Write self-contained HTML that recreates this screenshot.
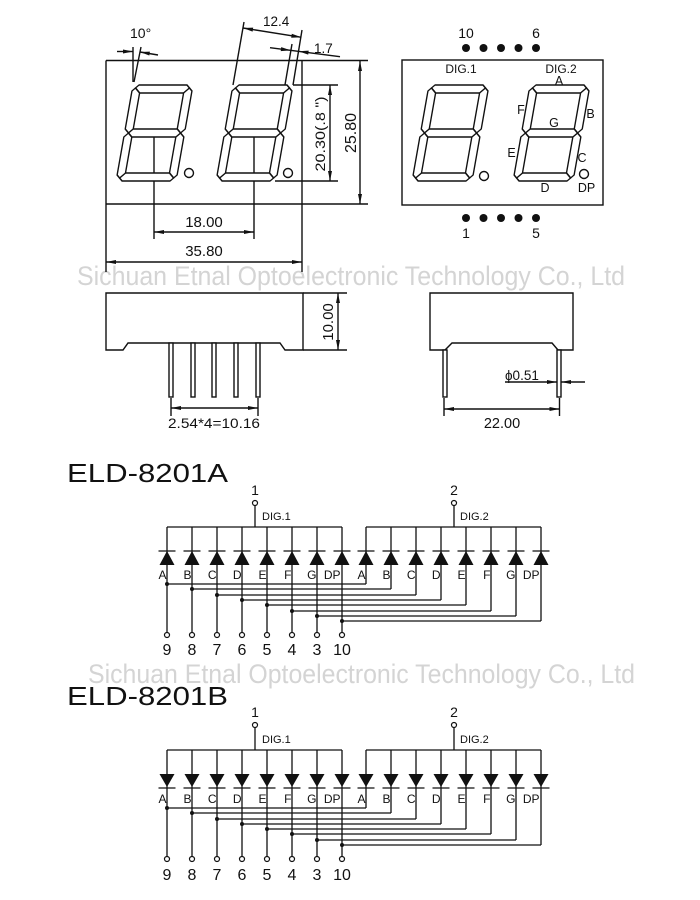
<!DOCTYPE html>
<html><head><meta charset="utf-8"><style>
html,body{margin:0;padding:0;background:#fff;}
svg{display:block;}
text{font-family:"Liberation Sans",Arial,sans-serif;fill:#111;}
.wm{fill:#d4d4d4;}
</style></head><body>
<svg width="700" height="900" viewBox="0 0 700 900" xmlns="http://www.w3.org/2000/svg" xmlns:xlink="http://www.w3.org/1999/xlink">
<defs>
<g id="dig" fill="#fff" stroke="#111" stroke-width="1.4" stroke-linejoin="round">
<polygon points="6,0 54,0 57,3 52,8 8,8 3,3"/>
<polygon points="57,3 60,6 60,44 56,48 52,44 52,8"/>
<polygon points="56,48 60,52 60,90 57,93 52,88 52,52"/>
<polygon points="8,88 52,88 57,93 54,96 6,96 3,93"/>
<polygon points="4,48 8,52 8,88 3,93 0,90 0,52"/>
<polygon points="3,3 8,8 8,44 4,48 0,44 0,6"/>
<polygon points="4,48 8,44 52,44 56,48 52,52 8,52"/>
</g>
<g id="dU"><line x1="-8.5" y1="0" x2="8.5" y2="0" stroke="#111" stroke-width="1.3"/><polygon points="0,0 -7.5,14 7.5,14" fill="#111"/></g>
<g id="dD"><polygon points="-7.5,0 7.5,0 0,13" fill="#111"/><line x1="-8.5" y1="14" x2="8.5" y2="14" stroke="#111" stroke-width="1.3"/></g>
</defs>

<!-- watermarks -->
<text class="wm" x="77" y="285" font-size="27" textLength="548" lengthAdjust="spacingAndGlyphs">Sichuan Etnal Optoelectronic Technology Co., Ltd</text>
<text class="wm" x="88" y="683" font-size="27" textLength="547" lengthAdjust="spacingAndGlyphs">Sichuan Etnal Optoelectronic Technology Co., Ltd</text>

<!-- ============ TOP LEFT FRONT VIEW ============ -->
<g stroke="#111" stroke-width="1.4" fill="none">
<line x1="106" y1="60.5" x2="368" y2="60.5"/>
<line x1="106" y1="204" x2="368" y2="204"/>
<line x1="106" y1="60.5" x2="106" y2="272"/>
<line x1="302" y1="60.5" x2="302" y2="272"/>
<line x1="360" y1="61" x2="360" y2="204"/>
<line x1="293" y1="85" x2="338" y2="85"/>
<line x1="275" y1="181" x2="338" y2="181"/>
<line x1="330" y1="85" x2="330" y2="181"/>
<line x1="154" y1="133" x2="154" y2="239"/>
<line x1="254" y1="133" x2="254" y2="239"/>
<line x1="154" y1="232" x2="254" y2="232"/>
<line x1="106" y1="262" x2="302" y2="262"/>
<line x1="133" y1="47" x2="133" y2="82"/>
<line x1="141" y1="47" x2="134" y2="82"/>
<line x1="117" y1="51.5" x2="133" y2="51.5"/>
<line x1="140" y1="52" x2="158" y2="55"/>
<line x1="244" y1="22" x2="233" y2="85"/>
<line x1="302" y1="30" x2="293" y2="85"/>
<line x1="243" y1="28" x2="301.4" y2="37.3"/>
<line x1="292" y1="44" x2="283.6" y2="93"/>
<line x1="270" y1="47.7" x2="340" y2="56.7"/>
</g>
<g fill="#111">
<polygon points="360,61 358,71 362,71"/>
<polygon points="360,204 358,194 362,194"/>
<polygon points="330,85 328,95 332,95"/>
<polygon points="330,181 328,171 332,171"/>
<polygon points="154,232 164,230 164,234"/>
<polygon points="254,232 244,230 244,234"/>
<polygon points="106,262 116,260 116,264"/>
<polygon points="302,262 292,260 292,264"/>
<polygon points="133,51.5 123,49.5 123,53.5"/>
<polygon points="140,52 149.9,51.6 149.3,55.5"/>
<polygon points="243,28 253.2,27.6 252.6,31.6"/>
<polygon points="301.4,37.3 291.8,33.7 291.2,37.7"/>
<polygon points="290.9,50.4 281.2,47.1 280.7,51.1"/>
<polygon points="298.5,51.3 308.7,50.6 308.2,54.6"/>
</g>
<use href="#dig" xlink:href="#dig" transform="translate(133,85) skewX(-10)"/>
<use href="#dig" xlink:href="#dig" transform="translate(233,85) skewX(-10)"/>
<g fill="#fff" stroke="#111" stroke-width="1.4">
<circle cx="189" cy="173" r="4.5"/>
<circle cx="288" cy="173" r="4.5"/>
</g>
<text x="130" y="38" font-size="14">10°</text>
<text x="263" y="26" font-size="13.5">12.4</text>
<text x="314" y="53" font-size="13.5">1.7</text>
<text x="204" y="227" font-size="15" text-anchor="middle">18.00</text>
<text x="204" y="256" font-size="15" text-anchor="middle">35.80</text>
<text transform="translate(356,133) rotate(-90)" font-size="16" text-anchor="middle">25.80</text>
<text transform="translate(325,134) rotate(-90)" font-size="14" text-anchor="middle" textLength="75" lengthAdjust="spacingAndGlyphs">20.30(.8 ")</text>

<!-- ============ TOP RIGHT FRONT VIEW ============ -->
<rect x="402" y="60" width="201" height="145" fill="none" stroke="#111" stroke-width="1.4"/>
<g fill="#111">
<circle cx="466" cy="48" r="4"/><circle cx="483.5" cy="48" r="4"/><circle cx="501" cy="48" r="4"/><circle cx="518.5" cy="48" r="4"/><circle cx="536" cy="48" r="4"/>
<circle cx="466" cy="218" r="4"/><circle cx="483.5" cy="218" r="4"/><circle cx="501" cy="218" r="4"/><circle cx="518.5" cy="218" r="4"/><circle cx="536" cy="218" r="4"/>
</g>
<text x="466" y="38" font-size="14" text-anchor="middle">10</text>
<text x="536" y="38" font-size="14" text-anchor="middle">6</text>
<text x="466" y="238" font-size="14" text-anchor="middle">1</text>
<text x="536" y="238" font-size="14" text-anchor="middle">5</text>
<text x="461" y="73" font-size="12" text-anchor="middle">DIG.1</text>
<text x="561" y="73" font-size="12" text-anchor="middle">DIG.2</text>
<use href="#dig" xlink:href="#dig" transform="translate(429,85) skewX(-10)"/>
<use href="#dig" xlink:href="#dig" transform="translate(530,85) skewX(-10)"/>
<g fill="#fff" stroke="#111" stroke-width="1.4">
<circle cx="484" cy="176" r="4.5"/>
<circle cx="584" cy="174" r="4.5"/>
</g>
<g font-size="12.5">
<text x="559" y="85" text-anchor="middle">A</text>
<text x="521" y="114" text-anchor="middle">F</text>
<text x="590.5" y="118" text-anchor="middle">B</text>
<text x="554" y="127" text-anchor="middle">G</text>
<text x="511.5" y="157" text-anchor="middle">E</text>
<text x="582" y="162" text-anchor="middle">C</text>
<text x="545" y="192" text-anchor="middle">D</text>
<text x="586.5" y="192" text-anchor="middle">DP</text>
</g>

<!-- ============ SIDE VIEWS ============ -->
<g stroke="#111" stroke-width="1.4" fill="none">
<polygon points="106,293 303,293 303,350 285,350 280,343 128,343 123,350 106,350"/>
<line x1="303" y1="293" x2="347" y2="293"/>
<line x1="303" y1="350" x2="347" y2="350"/>
<line x1="338" y1="293" x2="338" y2="350"/>
<rect x="169" y="343" width="4" height="54" fill="#fff"/>
<rect x="191" y="343" width="4" height="54" fill="#fff"/>
<rect x="212" y="343" width="4" height="54" fill="#fff"/>
<rect x="234" y="343" width="4" height="54" fill="#fff"/>
<rect x="256" y="343" width="4" height="54" fill="#fff"/>
<line x1="171" y1="398" x2="171" y2="416"/>
<line x1="258" y1="398" x2="258" y2="416"/>
<line x1="171" y1="408" x2="258" y2="408"/>

<polygon points="430,293 573,293 573,350 558,350 552,343 452,343 445,350 430,350"/>
<rect x="443" y="350" width="4" height="47" fill="#fff"/>
<rect x="557" y="350" width="4" height="47" fill="#fff"/>
<line x1="444" y1="398" x2="444" y2="416"/>
<line x1="559.5" y1="398" x2="559.5" y2="416"/>
<line x1="444" y1="409" x2="559.5" y2="409"/>
<line x1="505" y1="382" x2="557" y2="382"/>
<line x1="561" y1="382" x2="585" y2="382"/>
</g>
<g fill="#111">
<polygon points="338,293 336,303 340,303"/>
<polygon points="338,350 336,340 340,340"/>
<polygon points="171,408 181,406 181,410"/>
<polygon points="258,408 248,406 248,410"/>
<polygon points="444,409 454,407 454,411"/>
<polygon points="559.5,409 549.5,407 549.5,411"/>
<polygon points="557,382 547,380 547,384"/>
<polygon points="561,382 571,380 571,384"/>
</g>
<text transform="translate(333,322) rotate(-90)" font-size="15" text-anchor="middle">10.00</text>
<text x="214" y="428" font-size="14" text-anchor="middle" textLength="92" lengthAdjust="spacingAndGlyphs">2.54*4=10.16</text>
<text x="502" y="428" font-size="14.5" text-anchor="middle">22.00</text>
<text x="505" y="380" font-size="13.5">ϕ0.51</text>

<!-- ============ CIRCUIT A ============ -->
<text x="67" y="482" font-size="26" textLength="161" lengthAdjust="spacingAndGlyphs">ELD-8201A</text>
<g stroke="#111" stroke-width="1.3" fill="none">
<line x1="167" y1="527" x2="342" y2="527"/>
<line x1="366" y1="527" x2="541" y2="527"/>
<line x1="255" y1="505.5" x2="255" y2="527"/>
<line x1="454" y1="505.5" x2="454" y2="527"/>
<line x1="167" y1="527" x2="167" y2="632.5"/>
<line x1="192" y1="527" x2="192" y2="632.5"/>
<line x1="217" y1="527" x2="217" y2="632.5"/>
<line x1="242" y1="527" x2="242" y2="632.5"/>
<line x1="267" y1="527" x2="267" y2="632.5"/>
<line x1="292" y1="527" x2="292" y2="632.5"/>
<line x1="317" y1="527" x2="317" y2="632.5"/>
<line x1="342" y1="527" x2="342" y2="632.5"/>
<line x1="366" y1="527" x2="366" y2="584"/>
<line x1="391" y1="527" x2="391" y2="589"/>
<line x1="416" y1="527" x2="416" y2="595"/>
<line x1="441" y1="527" x2="441" y2="600"/>
<line x1="466" y1="527" x2="466" y2="605"/>
<line x1="491" y1="527" x2="491" y2="611"/>
<line x1="516" y1="527" x2="516" y2="616"/>
<line x1="541" y1="527" x2="541" y2="621"/>
<line x1="167" y1="584" x2="366" y2="584"/>
<line x1="192" y1="589" x2="391" y2="589"/>
<line x1="217" y1="595" x2="416" y2="595"/>
<line x1="242" y1="600" x2="441" y2="600"/>
<line x1="267" y1="605" x2="466" y2="605"/>
<line x1="292" y1="611" x2="491" y2="611"/>
<line x1="317" y1="616" x2="516" y2="616"/>
<line x1="342" y1="621" x2="541" y2="621"/>
</g>
<g fill="#fff" stroke="#111" stroke-width="1.2">
<circle cx="255" cy="503" r="2.5"/><circle cx="454" cy="503" r="2.5"/>
<circle cx="167" cy="635" r="2.5"/><circle cx="192" cy="635" r="2.5"/><circle cx="217" cy="635" r="2.5"/><circle cx="242" cy="635" r="2.5"/>
<circle cx="267" cy="635" r="2.5"/><circle cx="292" cy="635" r="2.5"/><circle cx="317" cy="635" r="2.5"/><circle cx="342" cy="635" r="2.5"/>
</g>
<g fill="#111">
<circle cx="167" cy="584" r="2"/><circle cx="192" cy="589" r="2"/><circle cx="217" cy="595" r="2"/><circle cx="242" cy="600" r="2"/>
<circle cx="267" cy="605" r="2"/><circle cx="292" cy="611" r="2"/><circle cx="317" cy="616" r="2"/><circle cx="342" cy="621" r="2"/>
</g>
<use href="#dU" xlink:href="#dU" x="167" y="551"/><use href="#dU" xlink:href="#dU" x="192" y="551"/><use href="#dU" xlink:href="#dU" x="217" y="551"/><use href="#dU" xlink:href="#dU" x="242" y="551"/>
<use href="#dU" xlink:href="#dU" x="267" y="551"/><use href="#dU" xlink:href="#dU" x="292" y="551"/><use href="#dU" xlink:href="#dU" x="317" y="551"/><use href="#dU" xlink:href="#dU" x="342" y="551"/>
<use href="#dU" xlink:href="#dU" x="366" y="551"/><use href="#dU" xlink:href="#dU" x="391" y="551"/><use href="#dU" xlink:href="#dU" x="416" y="551"/><use href="#dU" xlink:href="#dU" x="441" y="551"/>
<use href="#dU" xlink:href="#dU" x="466" y="551"/><use href="#dU" xlink:href="#dU" x="491" y="551"/><use href="#dU" xlink:href="#dU" x="516" y="551"/><use href="#dU" xlink:href="#dU" x="541" y="551"/>
<text x="255" y="495" font-size="14" text-anchor="middle">1</text>
<text x="454" y="495" font-size="14" text-anchor="middle">2</text>
<text x="262" y="520" font-size="11">DIG.1</text>
<text x="460" y="520" font-size="11">DIG.2</text>
<g font-size="12" text-anchor="end">
<text x="166.5" y="579">A</text><text x="191.5" y="579">B</text><text x="216.5" y="579">C</text><text x="241.5" y="579">D</text>
<text x="266.5" y="579">E</text><text x="291.5" y="579">F</text><text x="316.5" y="579">G</text><text x="340.5" y="579">DP</text>
<text x="365.5" y="579">A</text><text x="390.5" y="579">B</text><text x="415.5" y="579">C</text><text x="440.5" y="579">D</text>
<text x="465.5" y="579">E</text><text x="490.5" y="579">F</text><text x="515.5" y="579">G</text><text x="539.5" y="579">DP</text>
</g>
<g font-size="16" text-anchor="middle">
<text x="167" y="655">9</text><text x="192" y="655">8</text><text x="217" y="655">7</text><text x="242" y="655">6</text>
<text x="267" y="655">5</text><text x="292" y="655">4</text><text x="317" y="655">3</text><text x="342" y="655">10</text>
</g>

<!-- ============ CIRCUIT B ============ -->
<text x="67" y="705" font-size="26" textLength="161" lengthAdjust="spacingAndGlyphs">ELD-8201B</text>
<g stroke="#111" stroke-width="1.3" fill="none">
<line x1="167" y1="750" x2="342" y2="750"/>
<line x1="366" y1="750" x2="541" y2="750"/>
<line x1="255" y1="727.5" x2="255" y2="750"/>
<line x1="454" y1="727.5" x2="454" y2="750"/>
<line x1="167" y1="750" x2="167" y2="856.5"/>
<line x1="192" y1="750" x2="192" y2="856.5"/>
<line x1="217" y1="750" x2="217" y2="856.5"/>
<line x1="242" y1="750" x2="242" y2="856.5"/>
<line x1="267" y1="750" x2="267" y2="856.5"/>
<line x1="292" y1="750" x2="292" y2="856.5"/>
<line x1="317" y1="750" x2="317" y2="856.5"/>
<line x1="342" y1="750" x2="342" y2="856.5"/>
<line x1="366" y1="750" x2="366" y2="808"/>
<line x1="391" y1="750" x2="391" y2="813"/>
<line x1="416" y1="750" x2="416" y2="819"/>
<line x1="441" y1="750" x2="441" y2="824"/>
<line x1="466" y1="750" x2="466" y2="829"/>
<line x1="491" y1="750" x2="491" y2="834"/>
<line x1="516" y1="750" x2="516" y2="840"/>
<line x1="541" y1="750" x2="541" y2="845"/>
<line x1="167" y1="808" x2="366" y2="808"/>
<line x1="192" y1="813" x2="391" y2="813"/>
<line x1="217" y1="819" x2="416" y2="819"/>
<line x1="242" y1="824" x2="441" y2="824"/>
<line x1="267" y1="829" x2="466" y2="829"/>
<line x1="292" y1="834" x2="491" y2="834"/>
<line x1="317" y1="840" x2="516" y2="840"/>
<line x1="342" y1="845" x2="541" y2="845"/>
</g>
<g fill="#fff" stroke="#111" stroke-width="1.2">
<circle cx="255" cy="725" r="2.5"/><circle cx="454" cy="725" r="2.5"/>
<circle cx="167" cy="859" r="2.5"/><circle cx="192" cy="859" r="2.5"/><circle cx="217" cy="859" r="2.5"/><circle cx="242" cy="859" r="2.5"/>
<circle cx="267" cy="859" r="2.5"/><circle cx="292" cy="859" r="2.5"/><circle cx="317" cy="859" r="2.5"/><circle cx="342" cy="859" r="2.5"/>
</g>
<g fill="#111">
<circle cx="167" cy="808" r="2"/><circle cx="192" cy="813" r="2"/><circle cx="217" cy="819" r="2"/><circle cx="242" cy="824" r="2"/>
<circle cx="267" cy="829" r="2"/><circle cx="292" cy="834" r="2"/><circle cx="317" cy="840" r="2"/><circle cx="342" cy="845" r="2"/>
</g>
<use href="#dD" xlink:href="#dD" x="167" y="774"/><use href="#dD" xlink:href="#dD" x="192" y="774"/><use href="#dD" xlink:href="#dD" x="217" y="774"/><use href="#dD" xlink:href="#dD" x="242" y="774"/>
<use href="#dD" xlink:href="#dD" x="267" y="774"/><use href="#dD" xlink:href="#dD" x="292" y="774"/><use href="#dD" xlink:href="#dD" x="317" y="774"/><use href="#dD" xlink:href="#dD" x="342" y="774"/>
<use href="#dD" xlink:href="#dD" x="366" y="774"/><use href="#dD" xlink:href="#dD" x="391" y="774"/><use href="#dD" xlink:href="#dD" x="416" y="774"/><use href="#dD" xlink:href="#dD" x="441" y="774"/>
<use href="#dD" xlink:href="#dD" x="466" y="774"/><use href="#dD" xlink:href="#dD" x="491" y="774"/><use href="#dD" xlink:href="#dD" x="516" y="774"/><use href="#dD" xlink:href="#dD" x="541" y="774"/>
<text x="255" y="717" font-size="14" text-anchor="middle">1</text>
<text x="454" y="717" font-size="14" text-anchor="middle">2</text>
<text x="262" y="743" font-size="11">DIG.1</text>
<text x="460" y="743" font-size="11">DIG.2</text>
<g font-size="12" text-anchor="end">
<text x="166.5" y="803">A</text><text x="191.5" y="803">B</text><text x="216.5" y="803">C</text><text x="241.5" y="803">D</text>
<text x="266.5" y="803">E</text><text x="291.5" y="803">F</text><text x="316.5" y="803">G</text><text x="340.5" y="803">DP</text>
<text x="365.5" y="803">A</text><text x="390.5" y="803">B</text><text x="415.5" y="803">C</text><text x="440.5" y="803">D</text>
<text x="465.5" y="803">E</text><text x="490.5" y="803">F</text><text x="515.5" y="803">G</text><text x="539.5" y="803">DP</text>
</g>
<g font-size="16" text-anchor="middle">
<text x="167" y="880">9</text><text x="192" y="880">8</text><text x="217" y="880">7</text><text x="242" y="880">6</text>
<text x="267" y="880">5</text><text x="292" y="880">4</text><text x="317" y="880">3</text><text x="342" y="880">10</text>
</g>
</svg>
</body></html>
